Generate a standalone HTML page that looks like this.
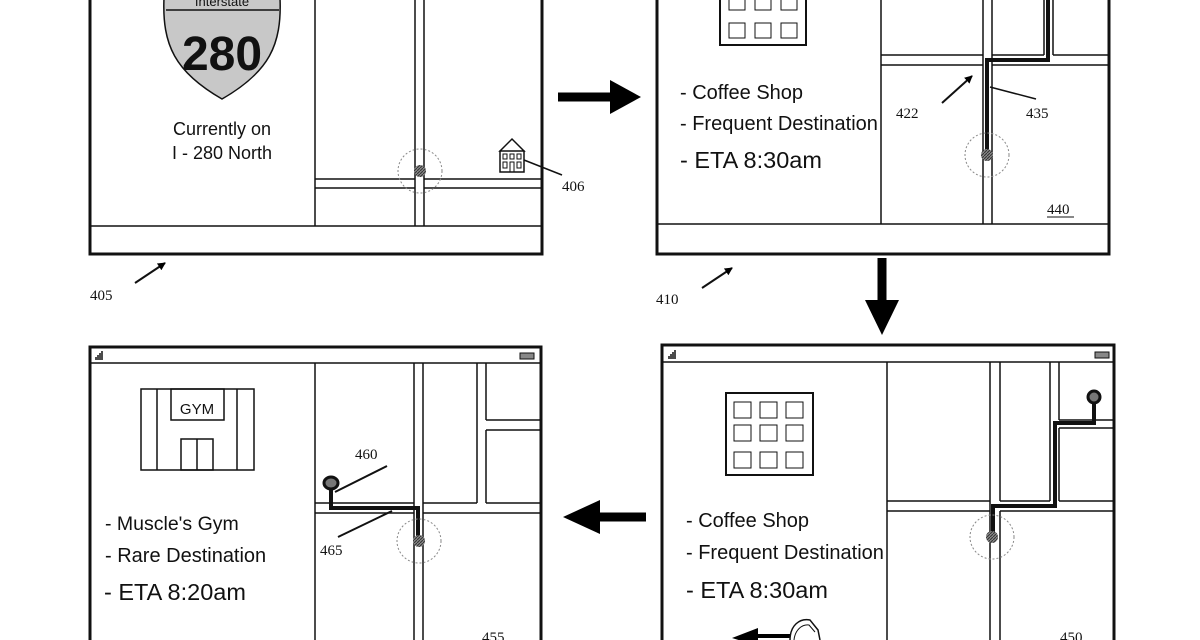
<!DOCTYPE html>
<html><head><meta charset="utf-8"><style>
html,body{margin:0;padding:0;background:#fff;width:1200px;height:640px;overflow:hidden}
text{font-family:"Liberation Sans",sans-serif;fill:#111}
.n{font-family:"Liberation Serif",serif;font-size:15px}
</style></head><body>
<svg width="1200" height="640" viewBox="0 0 1200 640" xmlns="http://www.w3.org/2000/svg">
<defs>
<pattern id="h" width="3" height="3" patternUnits="userSpaceOnUse"><rect width="3" height="3" fill="#888"/><path d="M0,3 L3,0" stroke="#333" stroke-width="1"/></pattern>
<marker id="ah" markerWidth="8" markerHeight="8" refX="7" refY="4" orient="auto" markerUnits="userSpaceOnUse"><path d="M0,0 L8,4 L0,8 Z" fill="#000"/></marker>
</defs>
<g fill="none" stroke="#111">
<!-- Panel 405 -->
<rect x="90" y="-10" width="452" height="264" stroke-width="3"/>
<line x1="90" y1="226" x2="542" y2="226" stroke-width="1.5"/>
<line x1="315" y1="0" x2="315" y2="226" stroke-width="1.5"/>
<line x1="415" y1="0" x2="415" y2="226" stroke-width="1.5"/>
<line x1="424" y1="0" x2="424" y2="226" stroke-width="1.5"/>
<line x1="315" y1="179" x2="415" y2="179" stroke-width="1.5"/>
<line x1="424" y1="179" x2="542" y2="179" stroke-width="1.5"/>
<line x1="315" y1="188" x2="415" y2="188" stroke-width="1.5"/>
<line x1="424" y1="188" x2="542" y2="188" stroke-width="1.5"/>
<circle cx="420" cy="171" r="22" stroke="#888" stroke-dasharray="2,2"/>
<circle cx="420" cy="171" r="6" fill="url(#h)" stroke="none"/>
<path d="M164,-2 C162,45 175,72 222,99 C269,72 282,45 280,-2" fill="#c8c8c8" stroke-width="1.5"/>
<line x1="166" y1="10" x2="279" y2="10" stroke-width="1.5"/>
<path d="M500,151 L512,139 L524,151 Z M500,151 H524 V172 H500 Z" fill="#fff" stroke-width="1.5"/>
<rect x="503" y="154" width="4" height="5"/><rect x="510" y="154" width="4" height="5"/><rect x="517" y="154" width="4" height="5"/>
<rect x="503" y="162" width="4" height="6"/><rect x="517" y="162" width="4" height="6"/><rect x="510" y="162" width="4" height="10"/>
<line x1="524" y1="160" x2="562" y2="175" stroke-width="1.5"/>
<line x1="135" y1="283" x2="165" y2="263" stroke-width="2" marker-end="url(#ah)"/>

<!-- arrows between -->
<line x1="558" y1="97" x2="612" y2="97" stroke="#000" stroke-width="9"/>
<path d="M610,80 L641,97 L610,114 Z" fill="#000" stroke="none"/>
<line x1="882" y1="258" x2="882" y2="302" stroke="#000" stroke-width="9"/>
<path d="M865,300 L882,335 L899,300 Z" fill="#000" stroke="none"/>
<line x1="598" y1="517" x2="646" y2="517" stroke="#000" stroke-width="9"/>
<path d="M600,500 L563,517 L600,534 Z" fill="#000" stroke="none"/>

<!-- Panel 410 -->
<rect x="657" y="-10" width="452" height="264" stroke-width="3"/>
<line x1="657" y1="224" x2="1109" y2="224" stroke-width="1.5"/>
<line x1="881" y1="0" x2="881" y2="224" stroke-width="1.5"/>
<line x1="983" y1="0" x2="983" y2="224" stroke-width="1.5"/>
<line x1="992" y1="0" x2="992" y2="224" stroke-width="1.5"/>
<line x1="1044" y1="0" x2="1044" y2="55" stroke-width="1.5"/>
<line x1="1053" y1="0" x2="1053" y2="55" stroke-width="1.5"/>
<path d="M881,55 H983 M992,55 H1044 M1053,55 H1109 M881,65 H983 M992,65 H1109" stroke-width="1.5"/>
<path d="M987,152 V60 H1048 V0" stroke-width="4"/>
<circle cx="987" cy="155" r="22" stroke="#888" stroke-dasharray="2,2"/>
<circle cx="987" cy="155" r="6" fill="url(#h)" stroke="none"/>
<rect x="720" y="-5" width="86" height="50" stroke-width="2"/>
<rect x="729" y="-5" width="16" height="15"/><rect x="755" y="-5" width="16" height="15"/><rect x="781" y="-5" width="16" height="15"/>
<rect x="729" y="23" width="16" height="15"/><rect x="755" y="23" width="16" height="15"/><rect x="781" y="23" width="16" height="15"/>
<line x1="942" y1="103" x2="972" y2="76" stroke-width="2" marker-end="url(#ah)"/>
<line x1="1036" y1="99" x2="990" y2="87" stroke-width="1.5"/>
<line x1="702" y1="288" x2="732" y2="268" stroke-width="2" marker-end="url(#ah)"/>
<line x1="1047" y1="217" x2="1074" y2="217" stroke-width="1"/>

<!-- Panel 455 -->
<rect x="90" y="347" width="451" height="310" stroke-width="3"/>
<line x1="90" y1="363" x2="541" y2="363" stroke-width="1.5"/>
<path d="M96,360 V357 M98,360 V355 M100,360 V353 M102,360 V351" stroke-width="1.5"/>
<rect x="520" y="353" width="14" height="6" fill="#888"/>
<line x1="315" y1="363" x2="315" y2="640" stroke-width="1.5"/>
<line x1="414" y1="363" x2="414" y2="640" stroke-width="1.5"/>
<line x1="423" y1="363" x2="423" y2="640" stroke-width="1.5"/>
<line x1="477" y1="363" x2="477" y2="503" stroke-width="1.5"/>
<line x1="486" y1="363" x2="486" y2="420" stroke-width="1.5"/>
<line x1="486" y1="430" x2="486" y2="503" stroke-width="1.5"/>
<path d="M486,420 H541 M486,430 H541 M315,503 H414 M423,503 H477 M486,503 H541 M315,513 H414 M423,513 H541" stroke-width="1.5"/>
<path d="M331,488 V508 H418 V537" stroke-width="4"/>
<ellipse cx="331" cy="483" rx="7" ry="6" stroke-width="3" fill="#777"/>
<circle cx="419" cy="541" r="22" stroke="#888" stroke-dasharray="2,2"/>
<circle cx="419" cy="541" r="6" fill="url(#h)" stroke="none"/>
<rect x="141" y="389" width="113" height="81" stroke-width="1.5"/>
<line x1="157" y1="389" x2="157" y2="470" stroke-width="1.5"/>
<line x1="237" y1="389" x2="237" y2="470" stroke-width="1.5"/>
<rect x="171" y="389" width="53" height="31" stroke-width="1.5"/>
<rect x="181" y="439" width="32" height="31" stroke-width="1.5"/>
<line x1="197" y1="439" x2="197" y2="470" stroke-width="1.5"/>
<line x1="387" y1="466" x2="335" y2="492" stroke-width="2"/>
<line x1="338" y1="537" x2="392" y2="511" stroke-width="2"/>

<!-- Panel 450 -->
<rect x="662" y="345" width="452" height="310" stroke-width="3"/>
<line x1="662" y1="362" x2="1114" y2="362" stroke-width="1.5"/>
<path d="M669,359 V356 M671,359 V354 M673,359 V352 M675,359 V350" stroke-width="1.5"/>
<rect x="1095" y="352" width="14" height="6" fill="#888"/>
<line x1="887" y1="362" x2="887" y2="640" stroke-width="1.5"/>
<line x1="990" y1="362" x2="990" y2="640" stroke-width="1.5"/>
<line x1="1000" y1="362" x2="1000" y2="501" stroke-width="1.5"/>
<line x1="1000" y1="511" x2="1000" y2="640" stroke-width="1.5"/>
<line x1="1050" y1="362" x2="1050" y2="501" stroke-width="1.5"/>
<line x1="1059" y1="362" x2="1059" y2="420" stroke-width="1.5"/>
<line x1="1059" y1="428" x2="1059" y2="501" stroke-width="1.5"/>
<path d="M1059,420 H1113 M1059,428 H1113 M887,501 H990 M1000,501 H1050 M1059,501 H1113 M887,511 H990 M1000,511 H1113" stroke-width="1.5"/>
<path d="M1094,402 V423 H1055 V506 H993 V535" stroke-width="4"/>
<ellipse cx="1094" cy="397" rx="6" ry="6" stroke-width="3" fill="#777"/>
<circle cx="992" cy="537" r="22" stroke="#888" stroke-dasharray="2,2"/>
<circle cx="992" cy="537" r="6" fill="url(#h)" stroke="none"/>
<rect x="726" y="393" width="87" height="82" stroke-width="2"/>
<rect x="734" y="402" width="17" height="16"/><rect x="760" y="402" width="17" height="16"/><rect x="786" y="402" width="17" height="16"/>
<rect x="734" y="425" width="17" height="16"/><rect x="760" y="425" width="17" height="16"/><rect x="786" y="425" width="17" height="16"/>
<rect x="734" y="452" width="17" height="16"/><rect x="760" y="452" width="17" height="16"/><rect x="786" y="452" width="17" height="16"/>
<line x1="750" y1="636" x2="790" y2="636" stroke="#000" stroke-width="4"/>
<path d="M758,628 L732,638 L758,646 Z" fill="#000" stroke="none"/>
<path d="M790,640 C790,625 800,618 810,620 L818,630 L820,640" stroke-width="1.5"/>
<path d="M794,640 C795,630 802,624 809,625 L815,632" stroke-width="1"/>
</g>

<text x="222" y="6" font-size="13" text-anchor="middle">Interstate</text>
<text x="222" y="70" font-size="48" font-weight="bold" text-anchor="middle">280</text>
<text x="222" y="135" font-size="18" text-anchor="middle">Currently on</text>
<text x="222" y="159" font-size="18" text-anchor="middle">I - 280 North</text>
<text class="n" x="562" y="191">406</text>
<text class="n" x="90" y="300">405</text>

<text x="680" y="99" font-size="20">- Coffee Shop</text>
<text x="680" y="130" font-size="20">- Frequent Destination</text>
<text x="680" y="168" font-size="23.5">- ETA 8:30am</text>
<text class="n" x="896" y="118">422</text>
<text class="n" x="1026" y="118">435</text>
<text class="n" x="1047" y="214">440</text>
<text class="n" x="656" y="304">410</text>

<text x="197" y="414" font-size="15" text-anchor="middle">GYM</text>
<text x="105" y="530" font-size="19.5">- Muscle's Gym</text>
<text x="105" y="562" font-size="20">- Rare Destination</text>
<text x="104" y="600" font-size="23.5">- ETA 8:20am</text>
<text class="n" x="355" y="459">460</text>
<text class="n" x="320" y="555">465</text>
<text class="n" x="482" y="642">455</text>

<text x="686" y="527" font-size="20">- Coffee Shop</text>
<text x="686" y="559" font-size="20">- Frequent Destination</text>
<text x="686" y="598" font-size="23.5">- ETA 8:30am</text>
<text class="n" x="1060" y="642">450</text>
</svg>
</body></html>
